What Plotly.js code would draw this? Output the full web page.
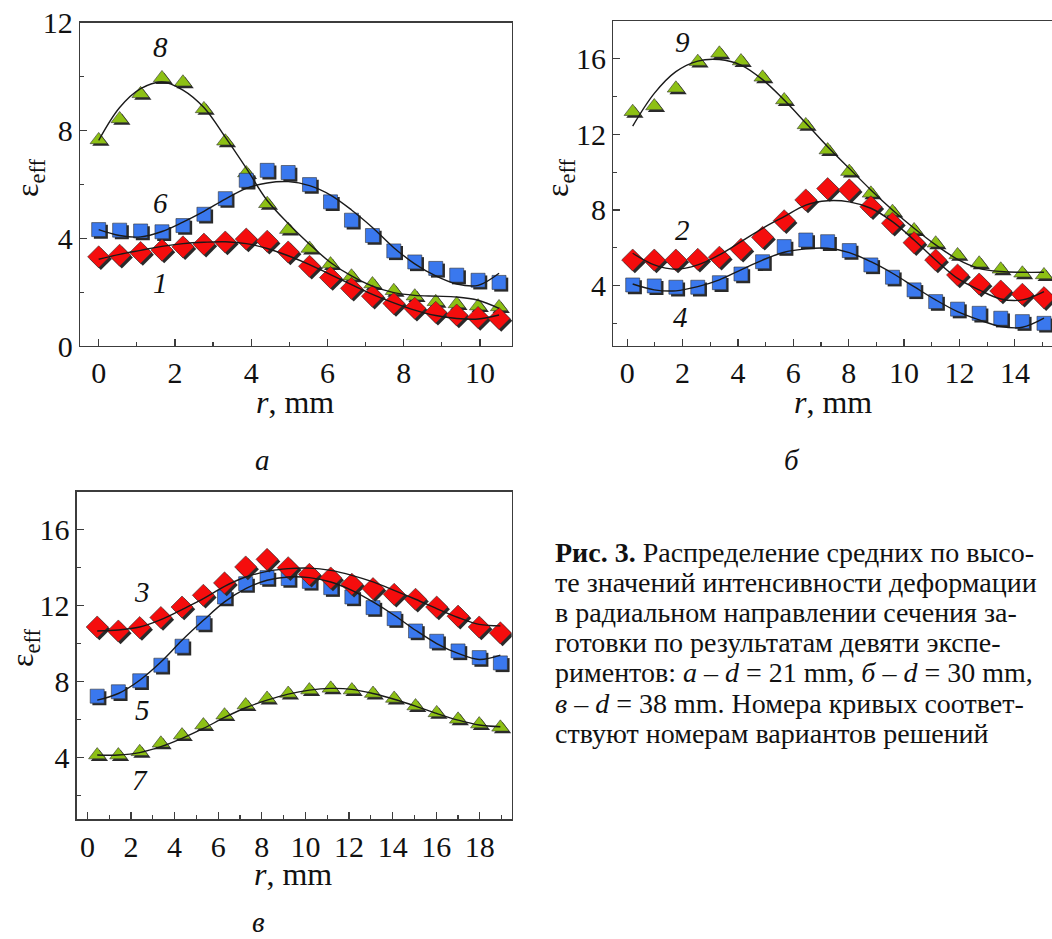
<!DOCTYPE html>
<html><head><meta charset="utf-8">
<script src="https://cdn.plot.ly/plotly-3.0.1.min.js"></script>
<style>html,body{margin:0;padding:0;background:#fff}#chart{width:1052px;height:939px}</style>
</head><body><div id="chart"></div>
<script>
// ---- Panel a (d = 21 mm) ----
const xA = [0,0.55,1.1,1.66,2.21,2.76,3.32,3.87,4.42,4.97,5.53,6.08,6.63,7.18,7.74,8.29,8.84,9.39,9.95,10.5];
const a_curve1 = [3.31,3.37,3.47,3.56,3.68,3.78,3.86,3.97,3.89,3.49,2.96,2.54,2.14,1.85,1.58,1.4,1.25,1.15,1.06,1.02];
const a_curve6 = [4.32,4.3,4.27,4.24,4.47,4.89,5.47,6.15,6.52,6.44,5.99,5.35,4.67,4.1,3.53,3.12,2.88,2.63,2.44,2.36];
const a_curve8 = [7.65,8.43,9.36,9.95,9.79,8.8,7.6,6.42,5.28,4.32,3.62,3.04,2.59,2.3,2.05,1.85,1.64,1.56,1.48,1.45];
const a_fit1 = [3.22,3.4,3.55,3.7,3.8,3.85,3.87,3.8,3.62,3.35,3.02,2.65,2.28,1.92,1.6,1.33,1.13,1.02,1.0,1.15];
const a_fit6 = [4.32,4.1,4.05,4.25,4.6,5.0,5.45,5.85,6.05,6.1,5.95,5.6,5.05,4.4,3.65,3.05,2.6,2.3,2.25,2.7];
const a_fit8 = [7.63,8.85,9.55,9.8,9.5,8.85,7.75,6.6,5.4,4.55,3.78,3.1,2.6,2.22,1.98,1.88,1.85,1.82,1.7,1.4];

// ---- Panel б (d = 30 mm) ----
const xB = [0.2,0.98,1.76,2.55,3.33,4.11,4.89,5.67,6.45,7.24,8.02,8.8,9.58,10.36,11.14,11.93,12.71,13.49,14.27,15.05];
const b_curve2 = [5.35,5.35,5.35,5.39,5.5,5.92,6.55,7.43,8.53,9.13,9.06,8.17,7.3,6.27,5.35,4.56,4.08,3.71,3.54,3.36];
const b_curve4 = [4.03,3.98,3.91,3.91,4.15,4.61,5.26,6.06,6.41,6.32,5.85,5.09,4.44,3.77,3.15,2.75,2.53,2.27,2.09,2.0];
const b_curve9 = [13.2,13.5,14.44,15.85,16.29,15.88,15.02,13.82,12.5,11.17,10.03,8.88,7.91,6.94,6.24,5.62,5.18,4.86,4.65,4.56];
const b_fit2 = [5.71,5.09,4.86,5.09,5.62,6.32,7.03,7.65,8.26,8.49,8.43,8.09,7.38,6.41,5.35,4.38,3.77,3.29,3.24,3.68];
const b_fit4 = [4.08,3.77,3.72,3.94,4.3,4.83,5.35,5.76,5.94,5.97,5.74,5.26,4.65,3.94,3.24,2.62,2.18,1.83,1.79,2.27];
const b_fit9 = [12.44,14.17,15.32,15.88,15.96,15.67,14.9,13.82,12.6,11.35,10.2,9.06,8.0,7.03,6.15,5.39,4.91,4.74,4.7,4.7];

// ---- Panel в (d = 38 mm) ----
const xC = [0.45,1.42,2.4,3.37,4.34,5.32,6.29,7.26,8.24,9.21,10.18,11.16,12.13,13.1,14.07,15.05,16.02,17.0,17.97,18.94];
const c_curve3 = [10.88,10.67,10.85,11.38,11.93,12.55,13.2,14.04,14.44,14.0,13.65,13.46,13.13,12.9,12.6,12.34,11.93,11.45,10.88,10.57];
const c_curve5 = [7.24,7.47,8.05,8.87,9.87,11.09,12.46,13.16,13.48,13.43,13.28,12.95,12.46,11.9,11.32,10.67,10.13,9.62,9.27,8.99];
const c_curve7 = [4.14,4.14,4.31,4.76,5.19,5.72,6.24,6.77,7.12,7.38,7.56,7.65,7.56,7.38,7.12,6.72,6.36,6.02,5.77,5.6];
const c_fit3 = [10.67,10.72,10.88,11.27,11.8,12.37,13.02,13.51,13.81,13.95,13.98,13.86,13.6,13.25,12.81,12.34,11.85,11.38,11.02,10.94];
const c_fit5 = [7.03,7.38,8.08,9.04,10.18,11.23,12.2,12.9,13.34,13.51,13.48,13.25,12.81,12.2,11.5,10.71,10.01,9.49,9.17,9.4];
const c_fit7 = [4.14,4.14,4.27,4.58,5.02,5.54,6.12,6.63,7.03,7.35,7.56,7.65,7.6,7.38,7.08,6.72,6.33,5.98,5.72,5.63];

// Curve number labels
const labelsA = ['8','6','1'];
const labelsB = ['9','2','4'];
const labelsC = ['3','5','7'];
const panelLetters = ['а','б','в'];
const captionLines = [
  '<b>Рис. 3.</b> Распределение средних по высо-',
  'те значений интенсивности деформации',
  'в радиальном направлении сечения за-',
  'готовки по результатам девяти экспе-',
  'риментов: <i>а</i> – <i>d</i> = 21 mm, <i>б</i> – <i>d</i> = 30 mm,',
  '<i>в</i> – <i>d</i> = 38 mm. Номера кривых соответ-',
  'ствуют номерам вариантов решений'
];

const W = 1052, H = 939;
const SERIF = 'Liberation Serif';
const RED = '#f50d0d', BLUE = '#3a78ee', GREEN = '#8dc015';
const FRAME = '#3c3c3c';

function px(x){ return x / W; }
function py(y){ return 1 - y / H; }

const dom = {
  a: {x:[px(80), px(512)], y:[py(346), py(22.7)], xr:[-0.49, 10.84], yr:[0, 12], dx:2, dy:4},
  b: {x:[px(613.3), px(1052)], y:[py(346), py(21)], xr:[-0.5, 15.34], yr:[0.8, 18], dx:2, dy:4},
  c: {x:[px(76.7), px(511.7)], y:[py(819.3), py(491.7)], xr:[-0.49, 19.46], yr:[0.76, 18], dx:2, dy:4}
};

function axis(d, which, anchor){
  const isX = which === 'x';
  return {
    domain: isX ? d.x : d.y,
    range: isX ? d.xr : d.yr,
    anchor: anchor,
    dtick: isX ? d.dx : d.dy, tick0: 0,
    showline: true, mirror: true, linecolor: FRAME, linewidth: 1.3,
    ticks: 'inside', ticklen: 7, tickwidth: 1.2, tickcolor: FRAME,
    minor: {ticks: 'inside', dtick: (isX ? d.dx : d.dy) / 2, ticklen: 4, tickwidth: 1.2, tickcolor: FRAME},
    showgrid: false, zeroline: false, fixedrange: true,
    tickfont: {family: SERIF, size: 30, color: '#111'}
  };
}

function shift(d){
  const sx = (d.xr[1]-d.xr[0]) / ((d.x[1]-d.x[0]) * W) * 2.2;
  const sy = (d.yr[1]-d.yr[0]) / ((d.y[1]-d.y[0]) * H) * 2.2;
  return [sx, sy];
}

const traces = [];
function addSeries(d, xa, ya, xs, ys, symbol, color, size){
  const [sx, sy] = shift(d);
  traces.push({x: xs.map(v => v + sx), y: ys.map(v => v - sy), xaxis: xa, yaxis: ya, mode: 'markers', type: 'scatter',
    marker: {symbol: symbol, size: size, color: '#2a2a2a', line: {width: 0}}, hoverinfo: 'skip', showlegend: false});
  traces.push({x: xs, y: ys, xaxis: xa, yaxis: ya, mode: 'markers', type: 'scatter',
    marker: {symbol: symbol, size: size, color: color, line: {width: 0.6, color: '#333'}}, showlegend: false});
}
function addFit(xa, ya, xs, ys){
  traces.push({x: xs, y: ys, xaxis: xa, yaxis: ya, mode: 'lines', type: 'scatter',
    line: {color: '#1a1a1a', width: 1.4, shape: 'spline', smoothing: 1.0}, hoverinfo: 'skip', showlegend: false});
}

addSeries(dom.a, 'x', 'y', xA, a_curve8, 'triangle-up', GREEN, 15);
addSeries(dom.a, 'x', 'y', xA, a_curve6, 'square', BLUE, 14);
addSeries(dom.a, 'x', 'y', xA, a_curve1, 'diamond', RED, 17);
addFit('x', 'y', xA, a_fit8); addFit('x', 'y', xA, a_fit6); addFit('x', 'y', xA, a_fit1);

addSeries(dom.b, 'x2', 'y2', xB, b_curve9, 'triangle-up', GREEN, 15);
addSeries(dom.b, 'x2', 'y2', xB, b_curve4, 'square', BLUE, 14);
addSeries(dom.b, 'x2', 'y2', xB, b_curve2, 'diamond', RED, 17);
addFit('x2', 'y2', xB, b_fit9); addFit('x2', 'y2', xB, b_fit2); addFit('x2', 'y2', xB, b_fit4);

addSeries(dom.c, 'x3', 'y3', xC, c_curve7, 'triangle-up', GREEN, 15);
addSeries(dom.c, 'x3', 'y3', xC, c_curve5, 'square', BLUE, 14);
addSeries(dom.c, 'x3', 'y3', xC, c_curve3, 'diamond', RED, 17);
addFit('x3', 'y3', xC, c_fit3); addFit('x3', 'y3', xC, c_fit5); addFit('x3', 'y3', xC, c_fit7);

const ann = [];
function txt(x, y, text, size, extra){
  ann.push(Object.assign({xref: 'paper', yref: 'paper', x: px(x), y: py(y), text: text, showarrow: false,
    xanchor: 'center', yanchor: 'middle',
    font: {family: SERIF, size: size, color: '#111'}}, extra || {}));
}
// axis titles
const yTitle = 'ε<sub>eff</sub>';
const xTitle = '<i>r</i>, mm';
txt(30, 178, yTitle, 32, {textangle: -90});
txt(560, 178, yTitle, 32, {textangle: -90});
txt(24, 648, yTitle, 32, {textangle: -90});
txt(295, 402, xTitle, 32);
txt(833, 402, xTitle, 32);
txt(293, 874, xTitle, 32);
// curve numbers
const curveLabelPos = [[160,47],[160,203],[160,283],[682,42],[682,230],[680,317],[142,592],[142,710],[140,780]];
labelsA.concat(labelsB, labelsC).forEach((t, i) => txt(curveLabelPos[i][0], curveLabelPos[i][1], '<i>' + t + '</i>', 29));
// panel letters
const letterPos = [[262,460],[792,460],[258,922]];
panelLetters.forEach((t, i) => txt(letterPos[i][0], letterPos[i][1], '<i>' + t + '</i>', 29));
// caption
captionLines.forEach((t, i) => txt(553, 552 + i * 30.2, t, 28, {xanchor: 'left', align: 'left'}));

const layout = {
  width: W, height: H, margin: {l: 0, r: 0, t: 0, b: 0},
  paper_bgcolor: '#fff', plot_bgcolor: '#fff', showlegend: false,
  xaxis: axis(dom.a, 'x', 'y'), yaxis: axis(dom.a, 'y', 'x'),
  xaxis2: axis(dom.b, 'x', 'y2'), yaxis2: axis(dom.b, 'y', 'x2'),
  xaxis3: axis(dom.c, 'x', 'y3'), yaxis3: axis(dom.c, 'y', 'x3'),
  annotations: ann
};
Plotly.newPlot('chart', traces, layout, {staticPlot: true, displayModeBar: false});
</script>
</body></html>
